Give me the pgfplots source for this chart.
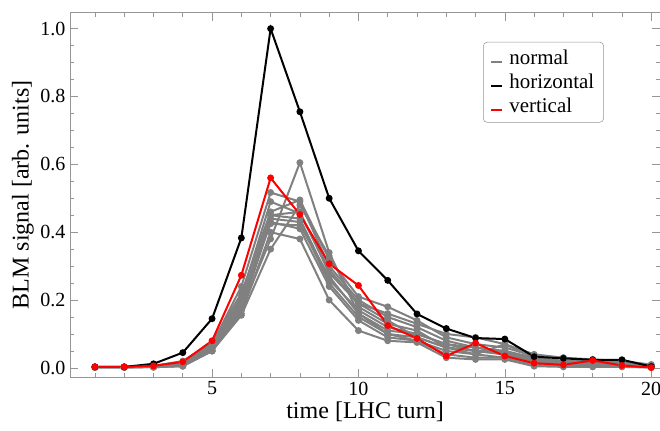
\documentclass[border=0pt]{standalone}
\usepackage{fontspec}
\setmainfont{Liberation Serif}
\usepackage{pgfplots}
\pgfplotsset{compat=1.18}
\definecolor{gline}{RGB}{128,128,128}
\definecolor{frame}{RGB}{150,150,150}
\begin{document}
\begin{tikzpicture}
\begin{axis}[
  scale only axis,
  width=442pt, height=273pt,
  xmin=0.15, xmax=20.3, ymin=-0.027, ymax=1.047,
  axis line style={frame},
  xtick={5,10,15,20}, minor xtick={1,...,20},
  ytick={0,0.2,0.4,0.6,0.8,1.0}, minor ytick={0,0.05,...,1.05},
  tick align=inside,
  major tick length=6pt, minor tick length=3pt,
  every tick/.style={frame, line width=0.5pt},
  yticklabel style={/pgf/number format/.cd, fixed, fixed zerofill, precision=1},
  /pgf/number format/assume math mode=true,
  tick label style={font=\fontsize{15}{18}\selectfont, black},
  label style={font=\fontsize{18}{21}\selectfont},
  xlabel={time [LHC turn]},
  ylabel={BLM signal [arb. units]},
  xlabel style={yshift=2pt},
  ylabel style={yshift=-2pt},
  legend style={at={(0.700,0.920)}, anchor=north west, draw=frame, rounded corners=3pt,
    font=\fontsize{15.7}{18}\selectfont, inner xsep=5pt, inner ysep=4pt, row sep=1.5pt,
    /tikz/every odd column/.append style={column sep=3pt}},
  legend cell align=left,
  legend image code/.code={\draw[#1, mark=none, line width=1.5pt] (0pt,-3pt) -- (8pt,-3pt);},
  every axis plot/.append style={line width=1.5pt, mark=*, mark size=1.8pt},
]
% gray "normal" series
\addplot[gline] coordinates {(1,0.002)(2,0.002)(3,0.004)(4,0.010)(5,0.060)(6,0.170)(7,0.380)(8,0.605)(9,0.340)(10,0.160)(11,0.100)(12,0.090)(13,0.060)(14,0.050)(15,0.040)(16,0.020)(17,0.015)(18,0.010)(19,0.010)(20,0.005)};
\addlegendentry{normal}
\addplot[gline,forget plot] coordinates {(1,0.002)(2,0.002)(3,0.005)(4,0.015)(5,0.070)(6,0.240)(7,0.517)(8,0.490)(9,0.300)(10,0.200)(11,0.150)(12,0.120)(13,0.080)(14,0.060)(15,0.050)(16,0.030)(17,0.020)(18,0.015)(19,0.010)(20,0.005)};
\addplot[gline,forget plot] coordinates {(1,0.003)(2,0.003)(3,0.006)(4,0.020)(5,0.075)(6,0.220)(7,0.460)(8,0.495)(9,0.320)(10,0.210)(11,0.180)(12,0.140)(13,0.090)(14,0.070)(15,0.060)(16,0.035)(17,0.030)(18,0.020)(19,0.020)(20,0.008)};
\addplot[gline,forget plot] coordinates {(1,0.002)(2,0.002)(3,0.004)(4,0.012)(5,0.060)(6,0.200)(7,0.450)(8,0.460)(9,0.280)(10,0.190)(11,0.160)(12,0.130)(13,0.100)(14,0.090)(15,0.070)(16,0.040)(17,0.030)(18,0.025)(19,0.020)(20,0.010)};
\addplot[gline,forget plot] coordinates {(1,0.002)(2,0.002)(3,0.003)(4,0.010)(5,0.055)(6,0.190)(7,0.450)(8,0.440)(9,0.260)(10,0.170)(11,0.120)(12,0.100)(13,0.070)(14,0.050)(15,0.040)(16,0.020)(17,0.015)(18,0.010)(19,0.010)(20,0.005)};
\addplot[gline,forget plot] coordinates {(1,0.002)(2,0.002)(3,0.003)(4,0.008)(5,0.050)(6,0.180)(7,0.440)(8,0.430)(9,0.250)(10,0.150)(11,0.100)(12,0.080)(13,0.050)(14,0.040)(15,0.030)(16,0.015)(17,0.010)(18,0.005)(19,0.005)(20,0.003)};
\addplot[gline,forget plot] coordinates {(1,0.002)(2,0.002)(3,0.003)(4,0.008)(5,0.050)(6,0.170)(7,0.430)(8,0.410)(9,0.240)(10,0.140)(11,0.090)(12,0.080)(13,0.040)(14,0.030)(15,0.030)(16,0.010)(17,0.005)(18,0.005)(19,0.005)(20,0.002)};
\addplot[gline,forget plot] coordinates {(1,0.002)(2,0.002)(3,0.002)(4,0.005)(5,0.050)(6,0.160)(7,0.400)(8,0.380)(9,0.200)(10,0.110)(11,0.080)(12,0.075)(13,0.030)(14,0.025)(15,0.025)(16,0.005)(17,0.003)(18,0.003)(19,0.003)(20,0.001)};
\addplot[gline,forget plot] coordinates {(1,0.002)(2,0.002)(3,0.002)(4,0.005)(5,0.050)(6,0.155)(7,0.350)(8,0.480)(9,0.330)(10,0.180)(11,0.130)(12,0.110)(13,0.060)(14,0.040)(15,0.070)(16,0.030)(17,0.020)(18,0.010)(19,0.010)(20,0.005)};
\addplot[gline,forget plot] coordinates {(1,0.002)(2,0.002)(3,0.004)(4,0.015)(5,0.065)(6,0.210)(7,0.490)(8,0.455)(9,0.290)(10,0.190)(11,0.140)(12,0.090)(13,0.060)(14,0.050)(15,0.050)(16,0.025)(17,0.020)(18,0.015)(19,0.015)(20,0.006)};
\addplot[gline,forget plot] coordinates {(1,0.002)(2,0.002)(3,0.003)(4,0.010)(5,0.060)(6,0.200)(7,0.425)(8,0.420)(9,0.270)(10,0.160)(11,0.110)(12,0.100)(13,0.070)(14,0.060)(15,0.045)(16,0.020)(17,0.020)(18,0.020)(19,0.015)(20,0.006)};
% horizontal
\addplot[black] coordinates {(1,0.003)(2,0.003)(3,0.012)(4,0.045)(5,0.145)(6,0.383)(7,1.000)(8,0.755)(9,0.500)(10,0.345)(11,0.258)(12,0.159)(13,0.116)(14,0.088)(15,0.085)(16,0.033)(17,0.028)(18,0.024)(19,0.024)(20,0.004)};
\addlegendentry{horizontal}
% vertical
\addplot[red] coordinates {(1,0.003)(2,0.003)(3,0.006)(4,0.018)(5,0.080)(6,0.273)(7,0.560)(8,0.452)(9,0.307)(10,0.243)(11,0.125)(12,0.087)(13,0.035)(14,0.073)(15,0.035)(16,0.014)(17,0.009)(18,0.022)(19,0.007)(20,0.001)};
\addlegendentry{vertical}
\end{axis}
\pgfresetboundingbox
\path[use as bounding box] (-52.5pt,-40pt) rectangle (442pt,282.5pt);
\end{tikzpicture}
\end{document}
